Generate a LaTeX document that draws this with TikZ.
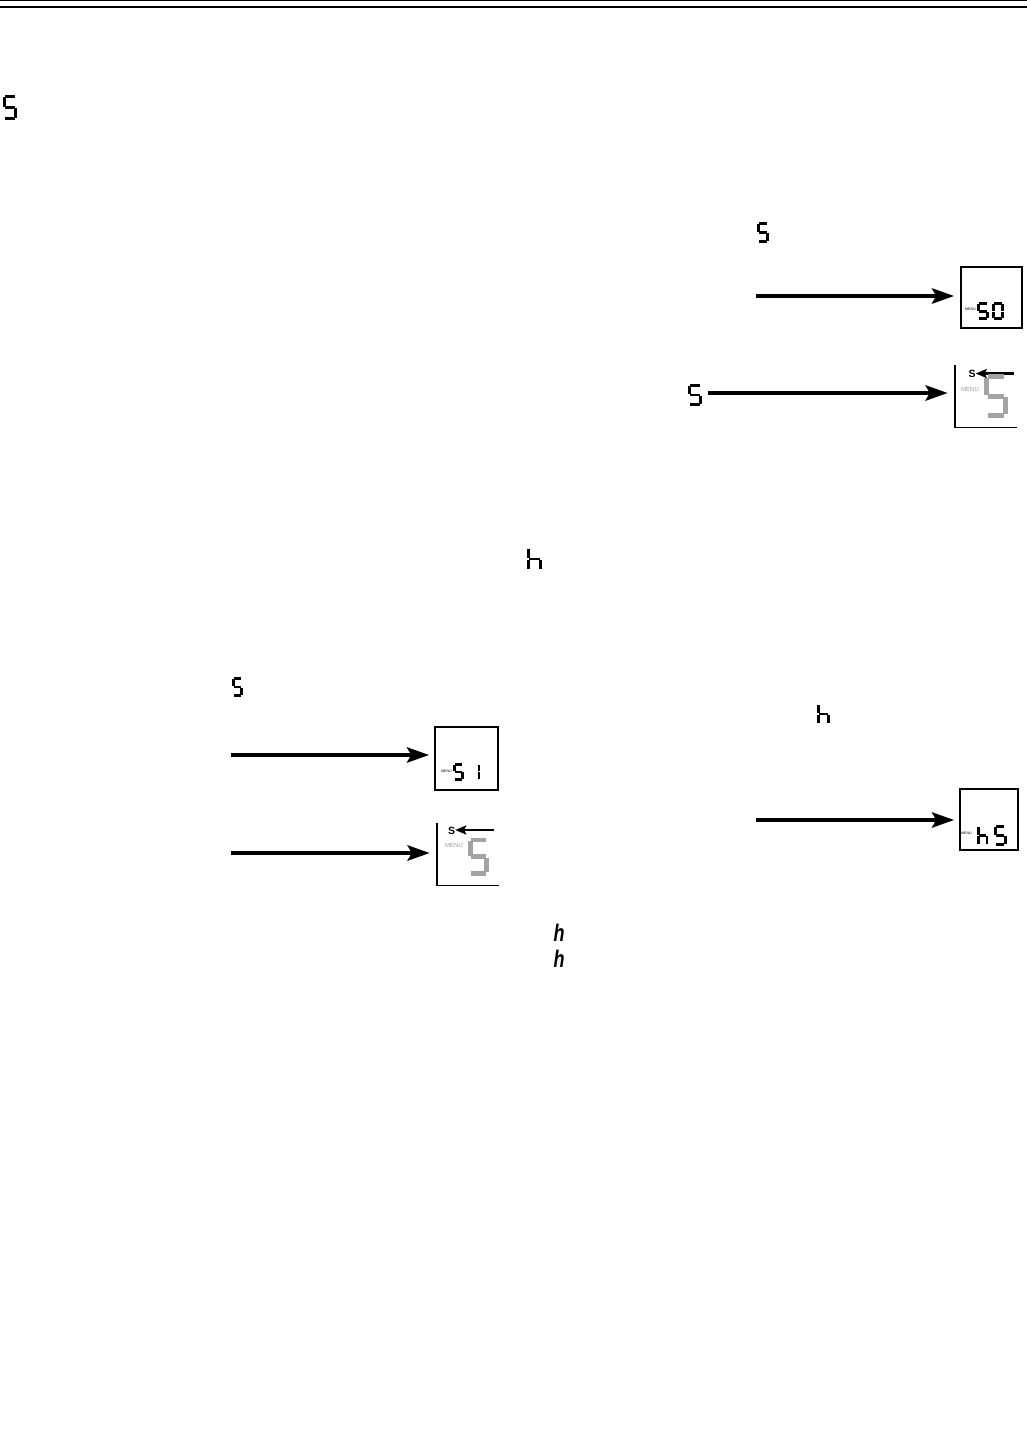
\documentclass[tikz,border=0pt]{standalone}
\usepackage{fontspec}
\setmainfont{Liberation Sans}
\usetikzlibrary{arrows.meta}
\definecolor{lcdgray}{HTML}{A3A3A3}
\definecolor{menugray}{HTML}{9A9A9A}
\newcommand\segA{\draw (0.07,0)--(0.93,0);}
\newcommand\segB{\draw (1,0.07)--(1,0.93);}
\newcommand\segC{\draw (1,1.07)--(1,1.93);}
\newcommand\segD{\draw (0.07,2)--(0.93,2);}
\newcommand\segE{\draw (0,1.07)--(0,1.93);}
\newcommand\segF{\draw (0,0.07)--(0,0.93);}
\newcommand\segG{\draw (0.07,1)--(0.93,1);}
\tikzset{
  digfive/.pic={\segA\segF\segG\segC\segD},
  digzero/.pic={\segA\segB\segC\segD\segE\segF},
  digone/.pic={\segB\segC},
  digh/.pic={\segF\segE\segG\segC},
  bigarrow/.style={line width=4.6pt,-{Stealth[length=22pt,width=15pt,inset=4pt]}},
  smallarrow/.style={line width=2.8pt,-{Stealth[length=11pt,width=9pt,inset=2pt]}},
  dispbox/.style={draw,line width=1.6pt,minimum width=61pt,minimum height=61pt,inner sep=0pt},
  openbox/.style={minimum width=62pt,minimum height=62pt,inner sep=0pt},
  tinymenu/.style={font=\fontsize{3.6}{3.6}\selectfont,inner sep=0pt},
  graymenu/.style={font=\fontsize{6}{6}\selectfont,text=menugray,inner sep=0pt},
  slabel/.style={font=\fontsize{10.5}{10.5}\selectfont\bfseries,inner sep=0pt},
  ith/.style={font=\fontsize{24}{24}\selectfont\bfseries\itshape,inner sep=0pt,anchor=base,xscale=0.75},
}
\begin{document}
\begin{tikzpicture}[x=1pt,y=-1pt,line cap=butt]
\useasboundingbox (0,0) rectangle (1027,1453);
\fill[white] (0,0) rectangle (1027,1453);
% header rules
\coordinate (rl1) at (0,0.6); \coordinate (rr1) at (1027,0.6);
\coordinate (rl2) at (0,7); \coordinate (rr2) at (1027,7);
\draw[line width=1pt] (rl1) -- (rr1);
\draw[line width=1.7pt] (rl2) -- (rr2);

% seven-segment glyphs in the text
\pic[line width=2.9pt] at (4.5,96.5) [xscale=11,yscale=11] {digfive};
\pic[line width=2.7pt] at (758.3,223.3) [xscale=9.4,yscale=9.2] {digfive};
\pic[line width=2.7pt] at (689.3,385.3) [xscale=11.4,yscale=9.7] {digfive};
\pic[line width=2.7pt] at (528.3,548.3) [xscale=12.4,yscale=10.7] {digh};
\pic[line width=2.7pt] at (233.3,678.3) [xscale=8.4,yscale=8.7] {digfive};
\pic[line width=2.7pt] at (818.3,704.3) [xscale=10.4,yscale=9.7] {digh};

% italic h
\node[ith] (ih1) at (559,941) {h};
\node[ith] (ih2) at (559,967) {h};

% ---- box 1 : 50
\node[dispbox] (box1) at (991.5,297.5) {};
\node[tinymenu] (m1) at (970.5,309.5) {MENU};
\pic[line width=2.7pt] at (978.8,303.8) [xscale=8.6,yscale=7.5] {digfive};
\pic[line width=2.7pt] at (993.8,303.8) [xscale=8.6,yscale=7.5] {digzero};
\coordinate (a1s) at (756,296);
\draw[bigarrow,shorten >=6pt] (a1s) -- (box1.west |- a1s);

% ---- box 2 : open, S arrow
\node[openbox] (box2) at (986,396) {};
\draw[line width=1.4pt] (box2.north west) -- (box2.south west) -- (box2.south east);
\node[slabel] (s2) at (972,374) {S};
\coordinate (s2a) at (1014,373.5);
\draw[smallarrow] (s2a) -- (s2.east |- s2a);
\node[graymenu] (m2) at (970,389.5) {MENU};
\pic[line width=5pt,color=lcdgray] at (986.5,376.5) [xscale=19,yscale=19.5] {digfive};
\coordinate (a2s) at (708,393);
\draw[bigarrow,shorten >=7pt] (a2s) -- (box2.west |- a2s);

% ---- box 3 : 51
\node[dispbox,minimum width=63pt,minimum height=63pt] (box3) at (466.5,758.5) {};
\node[tinymenu] (m3) at (446.5,771.5) {MENU};
\pic[line width=2.8pt] at (454.3,764.3) [xscale=8,yscale=7.6] {digfive};
\pic[line width=2.8pt] at (471,764.3) [xscale=8,yscale=7.6] {digone};
\coordinate (a3s) at (231,755);
\draw[bigarrow,shorten >=5pt] (a3s) -- (box3.west |- a3s);

% ---- box 4 : open, S arrow
\node[openbox] (box4) at (468,854) {};
\draw[line width=1.4pt] (box4.north west) -- (box4.south west) -- (box4.south east);
\node[slabel] (s4) at (451.5,830.5) {S};
\coordinate (s4a) at (494,830);
\draw[smallarrow] (s4a) -- (s4.east |- s4a);
\node[graymenu] (m4) at (454,845.5) {MENU};
\pic[line width=4.8pt,color=lcdgray] at (470.2,840) [xscale=16.5,yscale=16.8] {digfive};
\coordinate (a4s) at (231,853);
\draw[bigarrow,shorten >=7pt] (a4s) -- (box4.west |- a4s);

% ---- box 5 : h5
\node[dispbox,minimum width=58pt] (box5) at (989,819.5) {};
\node[tinymenu] (m5) at (966.5,833.5) {MENU};
\pic[line width=2.8pt] at (978.3,826.3) [xscale=8.6,yscale=9] {digh};
\pic[line width=2.8pt] at (995.3,826.3) [xscale=9.8,yscale=9] {digfive};
\coordinate (a5s) at (756,820);
\draw[bigarrow,shorten >=5pt] (a5s) -- (box5.west |- a5s);
\end{tikzpicture}
\end{document}
